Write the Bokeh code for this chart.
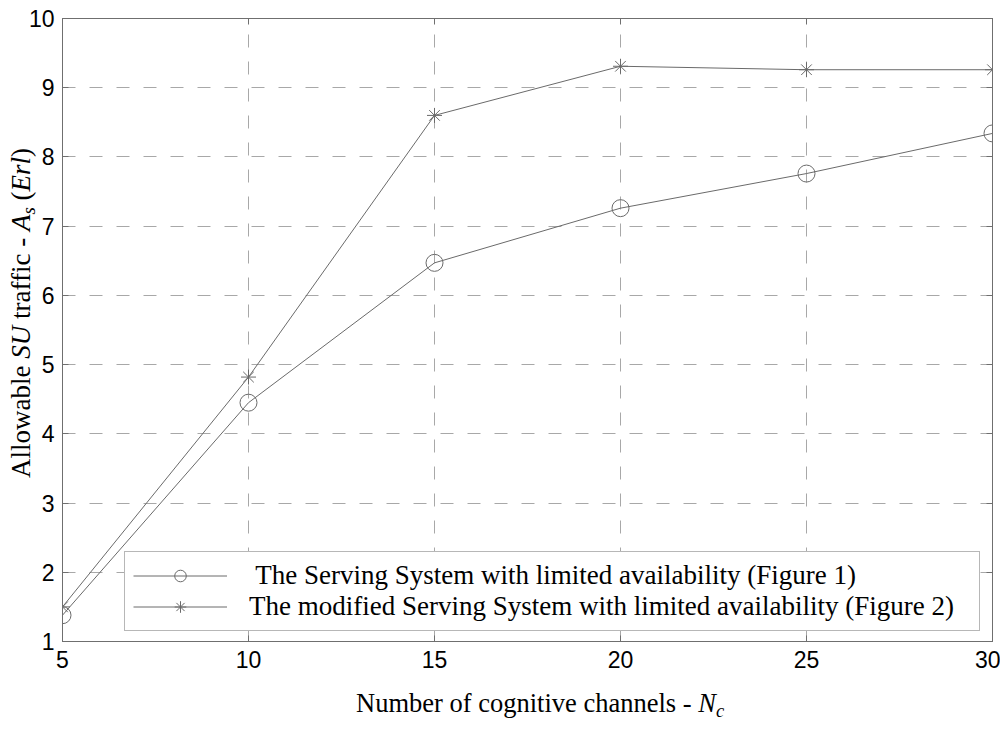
from bokeh.plotting import figure
from bokeh.models import Range1d, LinearAxis, FixedTicker, Legend, LegendItem, Div
from bokeh.layouts import row, column
from bokeh.embed import file_html
from bokeh.resources import INLINE

# ---------------- data ----------------
channels = [5, 10, 15, 20, 25, 30]
traffic_fig1 = [1.38, 4.45, 6.47, 7.26, 7.76, 8.34]
traffic_fig2 = [1.50, 4.82, 8.60, 9.31, 9.26, 9.26]
x_ticks = [5, 10, 15, 20, 25, 30]
y_ticks = [1, 2, 3, 4, 5, 6, 7, 8, 9, 10]
series_labels = [
    " The Serving System with limited availability (Figure 1)",
    "The modified Serving System with limited availability (Figure 2)",
]
x_title_html = "Number of cognitive channels - <i>N<sub>c</sub></i>"
y_title_html = "Allowable <i>SU</i> traffic - <i>A<sub>s</sub></i> (<i>Erl</i>)"

# ---------------- layout ----------------
YDIV_W = 25
BORDER_L, BORDER_T, BORDER_R, BORDER_B = 34, 18, 8, 36
FW, FH = 930, 623
PLOT_W = BORDER_L + FW + BORDER_R
PLOT_H = BORDER_T + FH + BORDER_B
XDIV_H = 54
X0, X1 = 5, 30
Y0, Y1 = 1, 10
AX = "#6f6f6f"
LINE = "#6a6a6a"
GRID = "#a8a8a8"
SERIF = "Liberation Serif"
SANS = "Liberation Sans"

p = figure(
    frame_width=FW, frame_height=FH,
    x_range=Range1d(X0, X1), y_range=Range1d(Y0, Y1),
    output_backend="svg", toolbar_location=None,
    min_border_left=BORDER_L, min_border_top=BORDER_T,
    min_border_right=BORDER_R, min_border_bottom=BORDER_B,
    background_fill_color="white", border_fill_color=None,
    margin=(0, 0, 0, 0),
)
p.outline_line_color = AX
p.outline_line_width = 1

for ax in (p.xaxis[0], p.yaxis[0]):
    ax.axis_line_color = AX
    ax.major_tick_line_color = AX
    ax.major_tick_in = 6
    ax.major_tick_out = 0
    ax.minor_tick_line_color = None
    ax.major_label_text_font = SANS
    ax.major_label_text_font_size = "23px"
    ax.major_label_text_color = "black"
p.xaxis[0].major_label_standoff = 9
p.yaxis[0].major_label_standoff = 8
p.xaxis[0].ticker = FixedTicker(ticks=x_ticks)
p.yaxis[0].ticker = FixedTicker(ticks=y_ticks)

# mirrored ticks on top and right
top = LinearAxis(ticker=FixedTicker(ticks=x_ticks),
                 major_label_overrides={t: "" for t in x_ticks})
right = LinearAxis(ticker=FixedTicker(ticks=y_ticks),
                   major_label_overrides={t: "" for t in y_ticks})
for ax in (top, right):
    ax.axis_line_color = AX
    ax.major_tick_line_color = AX
    ax.major_tick_in = 6
    ax.major_tick_out = 0
    ax.minor_tick_line_color = None
    ax.major_label_standoff = 0
    ax.major_label_text_font_size = "1px"
p.add_layout(top, "above")
p.add_layout(right, "right")

for g in (p.xgrid[0], p.ygrid[0]):
    g.grid_line_color = GRID
    g.grid_line_dash = "13 14"
    g.grid_line_width = 1
p.xgrid[0].ticker = FixedTicker(ticks=x_ticks)
p.ygrid[0].ticker = FixedTicker(ticks=y_ticks)

# ---------------- series ----------------
l1 = p.line(channels, traffic_fig1, line_color=LINE, line_width=1)
m1 = p.scatter(channels, traffic_fig1, marker="circle", size=17,
               fill_color=None, line_color=LINE, line_width=1)
l2 = p.line(channels, traffic_fig2, line_color=LINE, line_width=1)
m2 = p.scatter(channels, traffic_fig2, marker="asterisk", size=15,
               line_color=LINE, line_width=1)

legend = Legend(
    items=[LegendItem(label=series_labels[0], renderers=[l1, m1]),
           LegendItem(label=series_labels[1], renderers=[l2, m2])],
    location=(62, 10), orientation="vertical",
    padding=8, spacing=0, margin=0,
    glyph_width=94, glyph_height=29, label_height=29,
    label_standoff=22, label_width=722,
    label_text_font=SERIF, label_text_font_size="27px",
    label_text_color="black",
    border_line_color=AX, border_line_width=1,
    background_fill_color="white", background_fill_alpha=1.0,
)
p.add_layout(legend, "center")

# ---------------- axis titles as rich HTML ----------------
SUB = "<style>sub{font-size:70%;vertical-align:-0.28em;line-height:0}</style>"

y_html = (
    SUB +
    f'<div style="position:relative;width:{YDIV_W}px;height:{PLOT_H}px;overflow:visible">'
    '<div style="position:absolute;left:8px;top:478px;transform-origin:0 0;'
    'transform:rotate(-90deg);white-space:nowrap;'
    f"font-family:'{SERIF}';font-size:27px;line-height:1;color:black\">"
    + y_title_html + "</div></div>"
)
ydiv = Div(text=y_html, width=YDIV_W, height=PLOT_H + XDIV_H,
           margin=(0, 0, 0, 0), styles={"overflow": "visible"})

x_html = (
    SUB +
    f'<div style="position:relative;width:{PLOT_W}px;height:{XDIV_H}px;overflow:visible">'
    f'<div style="position:absolute;left:{356 - YDIV_W}px;top:13px;white-space:nowrap;'
    f"font-family:'{SERIF}';font-size:26.5px;line-height:1;color:black\">"
    + x_title_html + "</div></div>"
)
xdiv = Div(text=x_html, width=PLOT_W, height=XDIV_H,
           margin=(0, 0, 0, 0), styles={"overflow": "visible"})

layout = row(ydiv, column(p, xdiv, spacing=0), spacing=0)

open("out.html", "w").write(file_html(layout, INLINE))
